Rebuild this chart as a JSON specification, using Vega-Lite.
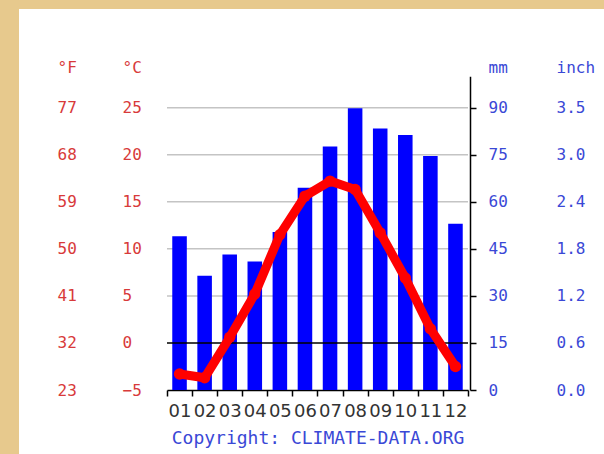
{
  "$schema": "https://vega.github.io/schema/vega-lite/v6.json",
  "width": 585,
  "height": 445,
  "autosize": {"type": "none"},
  "padding": {"left": 19, "top": 9, "right": 0, "bottom": 0},
  "background": "#e7c98d",
  "config": {"view": {"fill": "white", "stroke": null}},
  "datasets": {
    "climate": [
      {"month": "01", "mm": 49, "temp": -3.3},
      {"month": "02", "mm": 36.4, "temp": -3.7},
      {"month": "03", "mm": 43.2, "temp": 0.6},
      {"month": "04", "mm": 41, "temp": 5.2},
      {"month": "05", "mm": 50.4, "temp": 11.5},
      {"month": "06", "mm": 64.5, "temp": 15.6},
      {"month": "07", "mm": 77.6, "temp": 17.2},
      {"month": "08", "mm": 89.8, "temp": 16.3},
      {"month": "09", "mm": 83.4, "temp": 11.7},
      {"month": "10", "mm": 81.3, "temp": 6.9},
      {"month": "11", "mm": 74.6, "temp": 1.5},
      {"month": "12", "mm": 53, "temp": -2.5}
    ],
    "grid": [{"mm": 30}, {"mm": 45}, {"mm": 60}, {"mm": 75}, {"mm": 90}],
    "zero": [{"t": 0}]
  },
  "layer": [
    {
      "data": {"name": "grid"},
      "mark": {"type": "rule", "color": "#c4c4c4", "strokeWidth": 1.5},
      "encoding": {
        "x": {"datum": 0, "type": "quantitative", "scale": {"domain": [0, 12], "range": [148, 449]}, "axis": null},
        "x2": {"datum": 12},
        "y": {
          "field": "mm", "type": "quantitative",
          "scale": {"domain": [0, 100], "range": [381, 67.33], "nice": false, "zero": false},
          "axis": {
            "orient": "right", "offset": -48, "values": [0, 15, 30, 45, 60, 75, 90],
            "labelExpr": "format(datum.value / 25.4, '.1f')",
            "domain": false, "ticks": false, "tickSize": 0, "grid": false, "labelPadding": 0,
            "labelAlign": "left", "labelBaseline": "middle",
            "labelFont": "DejaVu Sans Mono", "labelFontSize": 16, "labelColor": "#3a48d6",
            "title": "inch", "titleAngle": 0, "titleX": 0, "titleY": 63, "titleAlign": "left", "titleBaseline": "alphabetic",
            "titleFont": "DejaVu Sans Mono", "titleFontSize": 16, "titleFontWeight": "normal", "titleColor": "#3a48d6"
          }
        }
      }
    },
    {
      "data": {"name": "climate"},
      "mark": {"type": "bar", "color": "#0000ff", "width": {"band": 0.58}},
      "encoding": {
        "x": {
          "field": "month", "type": "ordinal",
          "scale": {"type": "band", "range": [148, 449], "paddingInner": 0, "paddingOuter": 0},
          "axis": {
            "orient": "bottom", "offset": -64, "tickBand": "extent",
            "domain": true, "domainColor": "#000000", "domainWidth": 1.5,
            "ticks": true, "tickColor": "#000000", "tickWidth": 1.5, "tickSize": 6,
            "labelAngle": 0, "labelPadding": 6, "labelFont": "DejaVu Sans", "labelFontSize": 18, "labelColor": "#333333",
            "labelOverlap": false, "grid": false,
            "title": "Copyright: CLIMATE-DATA.ORG", "titleX": 298.5, "titleY": 53, "titleAlign": "center", "titleBaseline": "alphabetic",
            "titleFont": "DejaVu Sans Mono", "titleFontSize": 18, "titleFontWeight": "normal", "titleColor": "#3a48d6"
          }
        },
        "y": {
          "field": "mm", "type": "quantitative",
          "scale": {"domain": [0, 100], "range": [381, 67.33], "nice": false, "zero": false},
          "axis": {
            "orient": "right", "offset": -134, "values": [0, 15, 30, 45, 60, 75, 90],
            "domain": true, "domainColor": "#000000", "domainWidth": 1.5,
            "ticks": true, "tickColor": "#000000", "tickWidth": 1.5, "tickSize": 6, "grid": false,
            "labelPadding": 12, "labelAlign": "left", "labelBaseline": "middle",
            "labelFont": "DejaVu Sans Mono", "labelFontSize": 16, "labelColor": "#3a48d6",
            "title": "mm", "titleAngle": 0, "titleX": 18, "titleY": 63, "titleAlign": "left", "titleBaseline": "alphabetic",
            "titleFont": "DejaVu Sans Mono", "titleFontSize": 16, "titleFontWeight": "normal", "titleColor": "#3a48d6"
          }
        }
      }
    },
    {
      "data": {"name": "zero"},
      "mark": {"type": "rule", "color": "#000000", "strokeWidth": 1.5},
      "encoding": {
        "x": {"datum": 0, "type": "quantitative", "scale": {"domain": [0, 12], "range": [148, 449]}, "axis": null},
        "x2": {"datum": 12},
        "y": {
          "field": "t", "type": "quantitative",
          "scale": {"domain": [-5, 28.3333], "range": [381, 67.33], "nice": false, "zero": false},
          "axis": {
            "orient": "left", "offset": -38, "values": [-5, 0, 5, 10, 15, 20, 25],
            "labelExpr": "format(datum.value * 9 / 5 + 32, '.0f')",
            "domain": false, "ticks": false, "tickSize": 0, "grid": false, "labelPadding": 0,
            "labelAlign": "left", "labelBaseline": "middle",
            "labelFont": "DejaVu Sans Mono", "labelFontSize": 16, "labelColor": "#d83a3a",
            "title": "°F", "titleAngle": 0, "titleX": 0, "titleY": 63, "titleAlign": "left", "titleBaseline": "alphabetic",
            "titleFont": "DejaVu Sans Mono", "titleFontSize": 16, "titleFontWeight": "normal", "titleColor": "#d83a3a"
          }
        }
      }
    },
    {
      "data": {"name": "climate"},
      "mark": {"type": "line", "color": "#ff0000", "strokeWidth": 9, "strokeCap": "round", "strokeJoin": "round", "point": {"filled": true, "size": 130, "color": "#ff0000", "opacity": 1}},
      "encoding": {
        "x": {
          "field": "month", "type": "ordinal",
          "scale": {"type": "band", "range": [148, 449], "paddingInner": 0, "paddingOuter": 0},
          "axis": null
        },
        "y": {
          "field": "temp", "type": "quantitative",
          "scale": {"domain": [-5, 28.3333], "range": [381, 67.33], "nice": false, "zero": false},
          "axis": {
            "orient": "left", "offset": -103, "values": [-5, 0, 5, 10, 15, 20, 25],
            "domain": false, "ticks": false, "tickSize": 0, "grid": false, "labelPadding": 0,
            "labelAlign": "left", "labelBaseline": "middle",
            "labelFont": "DejaVu Sans Mono", "labelFontSize": 16, "labelColor": "#d83a3a",
            "title": "°C", "titleAngle": 0, "titleX": 0, "titleY": 63, "titleAlign": "left", "titleBaseline": "alphabetic",
            "titleFont": "DejaVu Sans Mono", "titleFontSize": 16, "titleFontWeight": "normal", "titleColor": "#d83a3a"
          }
        }
      }
    }
  ],
  "resolve": {
    "scale": {"x": "independent", "y": "independent"},
    "axis": {"x": "independent", "y": "independent"}
  }
}
